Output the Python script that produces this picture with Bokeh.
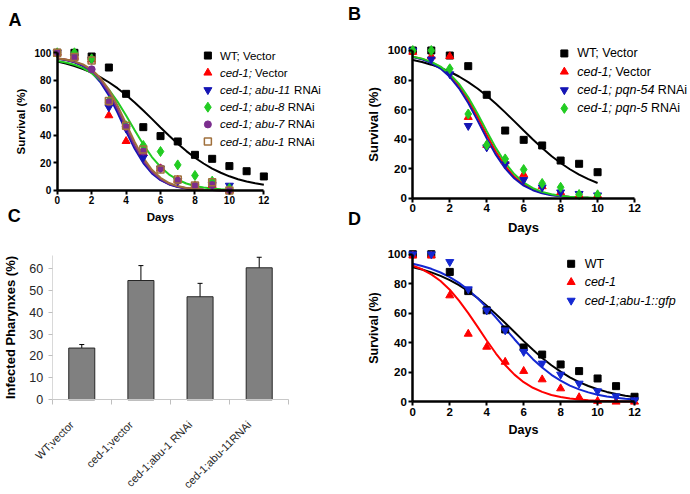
import math
from bokeh.plotting import figure
from bokeh.layouts import column, row
from bokeh.models import Range1d, FixedTicker, Label, Whisker, TeeHead, ColumnDataSource
from bokeh.embed import file_html
from bokeh.resources import INLINE

FONT = "Liberation Sans"

# ------------------------------------------------------------------ data
days = list(range(13))
fit_days = [i * 0.5 for i in range(25)]
X_TICKS = [0, 2, 4, 6, 8, 10, 12]
Y_TICKS = [0, 20, 40, 60, 80, 100]

# Panel A (survival, days 0-12 for WT, 0-10 otherwise)
A_wt = [100, 100, 97.3, 89.3, 70.2, 46, 39.5, 35.6, 25.9, 23, 17.7, 14, 10.2]
A_ced1 = [100, 97, 95, 54.5, 35.8, 27, 16, 7.7, 3.5, 4, 0]
A_abu11 = [100, 97, 95, 60.5, 45, 24, 16, 7, 3, 4, 3.6]
A_abu8 = [100, 100, 95.6, 65, 47, 32.7, 28.3, 18.6, 10.9, 6.8, 1.5]
A_abu7 = [100, 96.4, 88, 64, 46, 28.3, 16.2, 7, 3.6, 4, 0]
A_abu1 = [100, 97, 94.4, 65, 47, 29.8, 15.3, 8, 3.6, 6, 0]
# fitted curves (read every half day)
A_wt_fit = [93.6, 92.2, 90.4, 88.2, 85.6, 82.4, 78.6, 74.3, 69.4, 63.9, 58.1, 52.0, 45.8,
            39.7, 34.0, 28.6, 23.8, 19.6, 15.9, 12.9, 10.3, 8.2, 6.5, 5.2, 4.1]
A_ced1_fit = [95.8, 94.9, 93.3, 90.7, 86.4, 79.7, 70.1, 58.0, 44.4, 31.5, 20.8, 13.1, 7.9,
              4.6, 2.7, 1.6, 0.9, 0.5, 0.3, 0.2, 0.1]
A_abu11_fit = [95.7, 94.7, 93.1, 90.3, 85.8, 78.8, 69.0, 56.6, 43.0, 30.3, 19.9, 12.4, 7.5,
               4.4, 2.6, 1.5, 0.8, 0.5, 0.3, 0.2, 0.1]
A_abu8_fit = [94.0, 93.0, 91.3, 88.9, 85.2, 80.1, 73.3, 64.6, 54.4, 43.7, 33.4, 24.3, 17.1,
              11.6, 7.8, 5.1, 3.3, 2.1, 1.4, 0.9, 0.6]
A_abu7_fit = [95.8, 95.0, 93.5, 91.0, 86.9, 80.5, 71.2, 59.3, 45.8, 32.7, 21.7, 13.7, 8.3,
              4.9, 2.8, 1.6, 0.9, 0.5, 0.3, 0.2, 0.1]
A_abu1_fit = [96.0, 95.2, 93.8, 91.6, 87.8, 81.9, 73.3, 61.8, 48.5, 35.2, 23.7, 15.0, 9.2,
              5.4, 3.2, 1.8, 1.1, 0.6, 0.3, 0.2, 0.1]

# Panel B (days 0-10)
B_wt = [100, 100, 96.6, 89.4, 70, 45.8, 39.5, 35.7, 25.5, 23.3, 17.6]
B_ced1 = [99, 96, 96, 54.9, 36, 25, 16, 8, 4, 2, 2]
B_pqn54 = [100, 94, 84, 49, 34.5, 23, 12.4, 7.4, 4, 3, 2]
B_pqn5 = [100, 100, 87.6, 57, 36, 26.6, 19.4, 10, 7.4, 2.5, 2.3]
B_wt_fit = [93.6, 92.2, 90.4, 88.2, 85.6, 82.4, 78.6, 74.3, 69.4, 63.9, 58.1, 52.0, 45.8,
            39.7, 34.0, 28.6, 23.8, 19.6, 15.9, 12.9, 10.3]
B_ced1_fit = [95.7, 94.3, 92.1, 88.7, 83.5, 76.2, 66.6, 55.1, 42.9, 31.4, 21.8, 14.5, 9.3,
              5.9, 3.7, 2.3, 1.4, 0.8, 0.5, 0.3, 0.2]
B_pqn54_fit = [95.5, 94.0, 91.5, 87.8, 82.2, 74.4, 64.4, 52.7, 40.5, 29.3, 20.2, 13.3, 8.5,
               5.4, 3.3, 2.0, 1.3, 0.8, 0.5, 0.3, 0.2]
B_pqn5_fit = [95.8, 94.5, 92.3, 89.1, 84.2, 77.4, 68.3, 57.3, 45.4, 33.9, 24.0, 16.2, 10.6,
              6.8, 4.3, 2.7, 1.7, 1.0, 0.6, 0.4, 0.2]

# Panel C (bar chart)
C_categories = ["WT;vector", "ced-1;vector", "ced-1;abu-1 RNAi", "ced-1;abu-11RNAi"]
C_values = [23.6, 54.4, 47.0, 60.2]
C_errors = [1.6, 6.8, 6.1, 4.8]
C_Y_TICKS = [0, 10, 20, 30, 40, 50, 60]

# Panel D (days 0-12)
D_wt = [100, 100, 88, 75, 62, 49, 36.8, 32, 25.3, 20.8, 15.8, 10.6, 3.4]
D_ced1 = [99, 99, 72, 46, 37.2, 27, 20.8, 15.1, 9, 3, 0.5, 0, 0]
D_gfp = [100, 100, 94.8, 76.3, 62, 48.5, 33.9, 26, 18.5, 12.4, 7.2, 3.8, 1.1]
D_wt_fit = [91.2, 89.6, 87.7, 85.3, 82.4, 79.0, 74.9, 70.3, 65.1, 59.4, 53.4, 47.3, 41.1,
            35.2, 29.7, 24.8, 20.4, 16.6, 13.3, 10.7, 8.5, 6.7, 5.3, 4.1, 3.2]
D_ced1_fit = [92.2, 89.8, 86.3, 81.8, 75.9, 68.6, 60.1, 50.9, 41.5, 32.7, 24.9, 18.4, 13.3,
              9.5, 6.7, 4.6, 3.2, 2.2, 1.5, 1.0, 0.7, 0.5, 0.3, 0.2, 0.15]
D_gfp_fit = [93.5, 92.0, 90.1, 87.6, 84.5, 80.6, 75.8, 70.3, 63.9, 57.0, 49.7, 42.4, 35.4,
             28.9, 23.2, 18.3, 14.3, 11.0, 8.4, 6.4, 4.8, 3.6, 2.7, 2.0, 1.5]

# ------------------------------------------------------------------ styling
BLACK = "#000000"
RED = "#ff0000"
BLUE = "#1414b4"
GREEN = "#22cc22"
PURPLE = "#7b2d8e"
BROWN = "#a0703c"
BLUE_D = "#1428d2"

# Arial / Liberation Sans advance widths (1/1000 em)
CW = {' ': 278, ';': 278, ':': 278, '-': 333, 'a': 556, 'b': 556, 'c': 500, 'd': 556,
      'e': 556, 'f': 278, 'g': 556, 'i': 222, 'n': 556, 'o': 556, 'p': 556, 'q': 556,
      'r': 333, 't': 278, 'u': 556, 'l': 222, 'R': 722, 'N': 722, 'A': 667, 'V': 667,
      'W': 944, 'T': 611}


def tw(s, size):
    return sum(CW.get(ch, 556) for ch in s) * size / 1000.0


def base_fig(width, height, xr, yr):
    p = figure(width=width, height=height, x_range=Range1d(*xr), y_range=Range1d(*yr),
               output_backend="svg", toolbar_location=None, title=None,
               min_border_left=0, min_border_right=0, min_border_top=0, min_border_bottom=0)
    p.outline_line_color = None
    p.grid.grid_line_color = None
    p.background_fill_color = "white"
    p.border_fill_color = "white"
    return p


def survival_fig(width, height, xr, yr, tick_size, label_size, x_stand, y_stand):
    p = base_fig(width, height, xr, yr)
    xa = p.xaxis[0]
    ya = p.yaxis[0]
    xa.fixed_location = 0
    ya.fixed_location = 0
    xa.bounds = (X_TICKS[0], X_TICKS[-1])
    ya.bounds = (Y_TICKS[0], Y_TICKS[-1])
    xa.ticker = FixedTicker(ticks=X_TICKS)
    ya.ticker = FixedTicker(ticks=Y_TICKS)
    for ax in (xa, ya):
        ax.axis_line_width = 2.5
        ax.axis_line_color = "black"
        ax.major_tick_line_width = 2
        ax.major_tick_out = 4
        ax.major_tick_in = 0
        ax.minor_tick_line_color = None
        ax.major_label_text_font = FONT
        ax.major_label_text_font_style = "bold"
        ax.major_label_text_font_size = tick_size
        ax.major_label_text_color = "black"
        ax.axis_label_text_font = FONT
        ax.axis_label_text_font_style = "bold"
        ax.axis_label_text_font_size = label_size
        ax.axis_label_text_color = "black"
    xa.axis_label = "Days"
    ya.axis_label = "Survival (%)"
    xa.major_label_standoff = 2
    ya.major_label_standoff = 2
    xa.axis_label_standoff = x_stand
    ya.axis_label_standoff = y_stand
    return p


def add_series(p, xd, yd, xf, yf, color, marker, size, hollow=False):
    p.line(xf, yf, line_color=color, line_width=2)
    return (xd[:len(yd)], yd, color, marker, size, hollow)


def draw_points(p, items):
    for xd, yd, color, marker, size, hollow in items:
        if hollow:
            p.scatter(xd, yd, marker=marker, size=size, fill_color=None,
                      line_color=color, line_width=1.5)
        else:
            p.scatter(xd, yd, marker=marker, size=size, fill_color=color, line_color=color)


def legend(p, entries, lx, tx, y0, dy, size):
    for i, (parts, color, marker, msize, hollow) in enumerate(entries):
        y = y0 - i * dy
        if hollow:
            p.scatter([lx], [y], marker=marker, size=msize, fill_color=None,
                      line_color=color, line_width=1.5)
        else:
            p.scatter([lx], [y], marker=marker, size=msize, fill_color=color, line_color=color)
        off = 0.0
        for txt, style in parts:
            lead = len(txt) - len(txt.lstrip(' '))
            off += tw(' ' * lead, size)
            t = txt.strip()
            p.add_layout(Label(x=tx, y=y, x_offset=off, text=t, text_font=FONT,
                               text_font_size=f"{size}px", text_font_style=style,
                               text_color="black", text_baseline="middle", text_align="left"))
            off += tw(t, size)


def letter(p, x, y, txt):
    p.add_layout(Label(x=x, y=y, text=txt, text_font=FONT, text_font_size="18px",
                       text_font_style="bold", text_color="black", text_align="center",
                       text_baseline="middle"))


# ------------------------------------------------------------------ panel A
pa = survival_fig(345, 244, (-3.293, 16.742), (-39.22, 137.98), "10px", "11.5px", 3, 5)
it = [
    add_series(pa, days, A_wt, fit_days, A_wt_fit, BLACK, "square", 7),
    add_series(pa, days, A_ced1, fit_days[:21], A_ced1_fit, RED, "triangle", 8),
    add_series(pa, days, A_abu11, fit_days[:21], A_abu11_fit, BLUE, "inverted_triangle", 8),
    add_series(pa, days, A_abu8, fit_days[:21], A_abu8_fit, GREEN, "diamond", 10),
    add_series(pa, days, A_abu7, fit_days[:21], A_abu7_fit, PURPLE, "circle", 7),
    add_series(pa, days, A_abu1, fit_days[:21], A_abu1_fit, BROWN, "square", 7, True),
]
draw_points(pa, it)
legend(pa, [
    ([("WT; Vector", "normal")], BLACK, "square", 7, False),
    ([("ced-1;", "italic"), (" Vector", "normal")], RED, "triangle", 8, False),
    ([("ced-1; abu-11", "italic"), (" RNAi", "normal")], BLUE, "inverted_triangle", 8, False),
    ([("ced-1; abu-8", "italic"), (" RNAi", "normal")], GREEN, "diamond", 10, False),
    ([("ced-1; abu-7", "italic"), (" RNAi", "normal")], PURPLE, "circle", 7, False),
    ([("ced-1; abu-1", "italic"), (" RNAi", "normal")], BROWN, "square", 7, True),
], 8.75, 9.45, 98, 12.5, 11.5)
letter(pa, -2.45, 124, "A")
letter(pa, -2.5, -18.5, "C")

# ------------------------------------------------------------------ panel B
pb = survival_fig(343, 244, (-3.643, 14.92), (-31.35, 133.85), "11.5px", "13px", 4, 3)
it = [
    add_series(pb, days, B_wt, fit_days[:21], B_wt_fit, BLACK, "square", 7),
    add_series(pb, days, B_ced1, fit_days[:21], B_ced1_fit, RED, "triangle", 8),
    add_series(pb, days, B_pqn54, fit_days[:21], B_pqn54_fit, BLUE, "inverted_triangle", 8),
    add_series(pb, days, B_pqn5, fit_days[:21], B_pqn5_fit, GREEN, "diamond", 10),
]
draw_points(pb, it)
legend(pb, [
    ([("WT; Vector", "normal")], BLACK, "square", 7, False),
    ([("ced-1;", "italic"), (" Vector", "normal")], RED, "triangle", 8, False),
    ([("ced-1; pqn-54", "italic"), (" RNAi", "normal")], BLUE, "inverted_triangle", 8, False),
    ([("ced-1; pqn-5", "italic"), (" RNAi", "normal")], GREEN, "diamond", 10, False),
], 8.2, 8.9, 98, 12.4, 12.5)
letter(pb, -3.16, 124.4, "B")
letter(pb, -3.16, -14.1, "D")

# ------------------------------------------------------------------ panel C
pc = base_fig(345, 248, (-0.874, 4.959), (-42.27, 70.82))
xs = [i + 0.5 for i in range(len(C_categories))]
pc.vbar(x=xs, top=C_values, bottom=0, width=0.44, fill_color="#808080",
        line_color="#262626", line_width=1)
src = ColumnDataSource(dict(x=xs, upper=[v + e for v, e in zip(C_values, C_errors)],
                            lower=[v - e for v, e in zip(C_values, C_errors)]))
pc.add_layout(Whisker(source=src, base="x", upper="upper", lower="lower",
                      line_color="black", line_width=1,
                      upper_head=TeeHead(size=5, line_color="black", line_width=1),
                      lower_head=TeeHead(size=5, line_color="black", line_width=1)))
LABEL_SHIFT = -0.169  # rotated labels end a little left of each bar centre
label_pos = [x + LABEL_SHIFT for x in xs]
cx = pc.xaxis[0]
cx.fixed_location = 0
cx.bounds = (0, len(C_categories))
cx.ticker = FixedTicker(ticks=label_pos,
                        minor_ticks=[float(i) for i in range(len(C_categories) + 1)])
cx.major_label_overrides = {x: c for x, c in zip(label_pos, C_categories)}
cx.major_tick_line_color = None
cx.major_tick_out = 0
cx.major_tick_in = 0
cx.minor_tick_line_color = "#bfbfbf"
cx.minor_tick_out = 5
cx.minor_tick_in = 0
cx.axis_line_color = "#c8c8c8"
cx.major_label_orientation = math.pi / 4
cx.major_label_standoff = 18
cx.major_label_text_font = FONT
cx.major_label_text_font_size = "11px"
cx.major_label_text_color = "#262626"
cy = pc.yaxis[0]
cy.fixed_location = 0
cy.bounds = (0, 66)
cy.ticker = FixedTicker(ticks=C_Y_TICKS)
cy.axis_line_color = "#d9d9d9"
cy.major_tick_line_color = "#bfbfbf"
cy.major_tick_out = 4
cy.major_tick_in = 0
cy.minor_tick_line_color = None
cy.major_label_standoff = 5
cy.major_label_text_font = FONT
cy.major_label_text_font_size = "12.5px"
cy.major_label_text_color = "#262626"
cy.axis_label = "Infected Pharynxes (%)"
cy.axis_label_text_font = FONT
cy.axis_label_text_font_style = "bold"
cy.axis_label_text_font_size = "13px"
cy.axis_label_text_color = "black"
cy.axis_label_standoff = 9

# ------------------------------------------------------------------ panel D
pd_ = survival_fig(343, 248, (-3.643, 14.92), (-61.45, 106.57), "11.5px", "12.5px", 4, 3)
it = [
    add_series(pd_, days, D_wt, fit_days, D_wt_fit, BLACK, "square", 7),
    add_series(pd_, days, D_ced1, fit_days, D_ced1_fit, RED, "triangle", 8),
    add_series(pd_, days, D_gfp, fit_days, D_gfp_fit, BLUE_D, "inverted_triangle", 8),
]
draw_points(pd_, it)
legend(pd_, [
    ([("WT", "normal")], BLACK, "square", 7, False),
    ([("ced-1", "italic")], RED, "triangle", 8, False),
    ([("ced-1;abu-1::gfp", "italic")], BLUE_D, "inverted_triangle", 8, False),
], 8.57, 9.3, 93.5, 12.45, 12.5)

layout = column(row(pa, pb), row(pc, pd_))
open("out.html", "w").write(file_html(layout, INLINE))
